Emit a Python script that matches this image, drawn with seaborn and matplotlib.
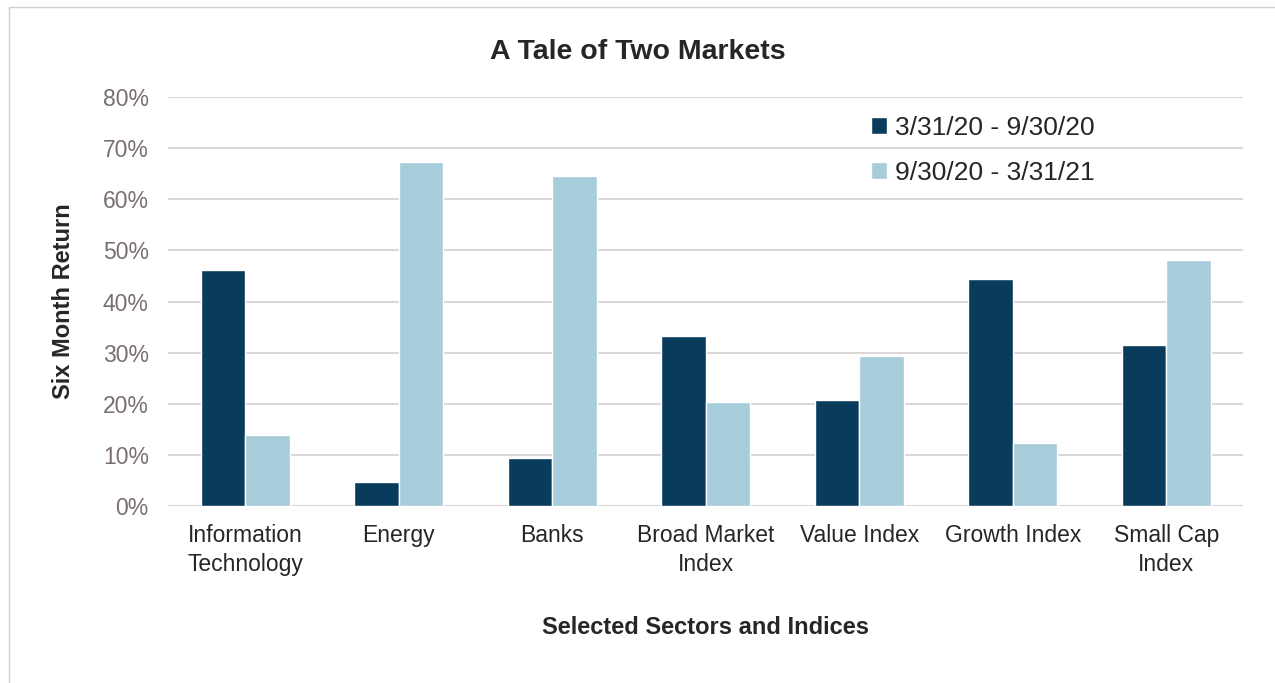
import numpy as np
import pandas as pd
import matplotlib
matplotlib.use("Agg")
import matplotlib.pyplot as plt
import seaborn as sns
from matplotlib.patches import Rectangle

categories = ["Information\nTechnology", "Energy", "Banks", "Broad Market\nIndex",
              "Value Index", "Growth Index", "Small Cap\nIndex"]
period1 = [46.2, 4.7, 9.4, 33.3, 20.7, 44.4, 31.5]
period2 = [13.9, 67.3, 64.6, 20.4, 29.4, 12.3, 48.1]
series_names = ["3/31/20 - 9/30/20", "9/30/20 - 3/31/21"]
yticks = [0, 10, 20, 30, 40, 50, 60, 70, 80]

df = pd.DataFrame({
    "category": categories * 2,
    "value": period1 + period2,
    "series": [series_names[0]] * len(categories) + [series_names[1]] * len(categories),
})

sns.set_style("white")
plt.rcParams["font.family"] = ["Liberation Sans", "DejaVu Sans"]

fig = plt.figure(figsize=(12.75, 6.83), dpi=100)
ax = fig.add_axes([0.132, 0.259, 0.843, 0.599])

sns.barplot(data=df, x="category", y="value", hue="series",
            palette=["#083B5C", "#A7CDDB"], width=0.58, gap=0.0,
            saturation=1, ax=ax, zorder=3)

ax.set_ylim(0, 80)
ax.set_yticks(yticks)
ax.set_yticklabels([f"{t}%" for t in yticks], color="#7A6E72", fontsize=16.5)
ax.set_xlim(-0.5, len(categories) - 0.5)
ax.tick_params(axis="x", labelsize=16.5, length=0, pad=13)
ax.tick_params(axis="y", length=0, pad=14)
for lbl in ax.get_xticklabels():
    lbl.set_linespacing(1.3)
ax.yaxis.grid(True, color="#DDD6D8", linewidth=1.5, zorder=0)
sns.despine(ax=ax, left=True, bottom=True, top=True, right=True)

ax.set_xlabel("Selected Sectors and Indices", fontsize=17, fontweight="bold", labelpad=29)
ax.set_ylabel("Six Month Return", fontsize=17, fontweight="bold", labelpad=20)
fig.text(0.5, 1 - 52 / 683, "A Tale of Two Markets", fontsize=20.5, fontweight="bold",
         ha="center", va="center")

ax.legend(loc="upper left", bbox_to_anchor=(0.632, 1.012), frameon=False,
          handlelength=0.6, handleheight=0.6, handletextpad=0.3, labelspacing=0.8,
          prop={"size": 19})

fig.patches.append(Rectangle((9 / 1275, -0.1), 1.2, 1 - 7 / 683 + 0.1, transform=fig.transFigure,
                             fill=False, edgecolor="#D0D0D0", linewidth=1))

fig.savefig("out.png", dpi=100)
